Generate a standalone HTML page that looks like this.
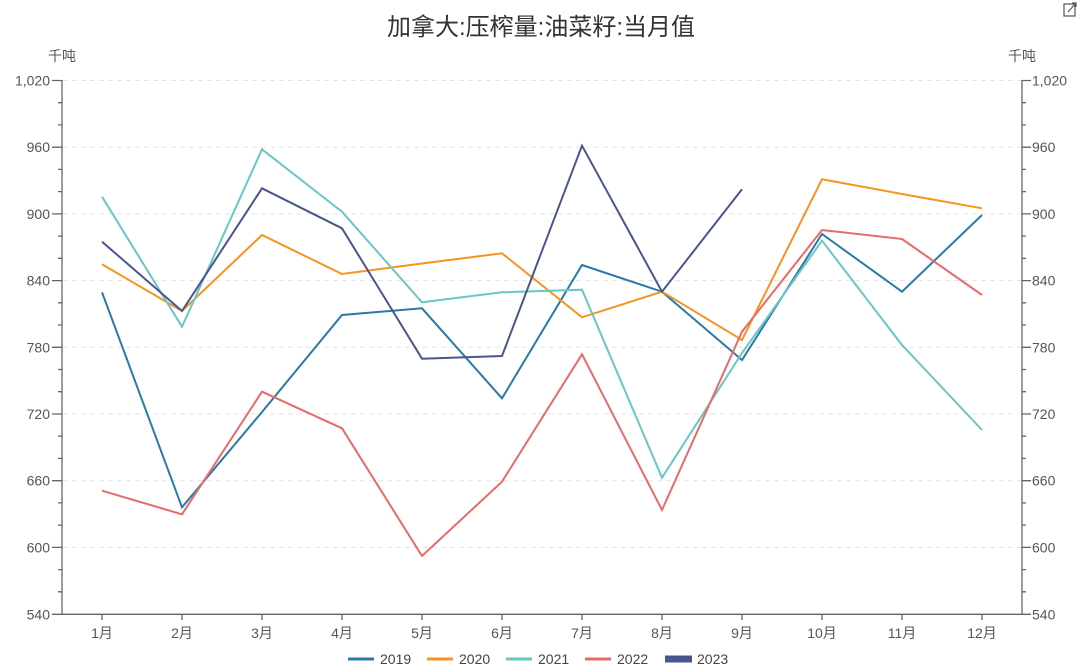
<!DOCTYPE html>
<html><head><meta charset="utf-8"><style>
html,body{margin:0;padding:0;background:#fff;}
svg{display:block;}
text{font-family:"Liberation Sans","Noto Sans CJK SC",sans-serif;}
</style></head><body>
<svg width="1080" height="671" viewBox="0 0 1080 671" xmlns="http://www.w3.org/2000/svg">
<rect width="1080" height="671" fill="#fff"/>
<text x="541" y="35" font-size="24" fill="#333" text-anchor="middle">加拿大:压榨量:油菜籽:当月值</text>
<g fill="none" stroke="#555" stroke-width="1.2">
<rect x="1064" y="4" width="11" height="12"/>
<path d="M1068 12 L1076 3 M1072 3 L1076 3 L1076 7"/>
</g>
<text x="62" y="61" font-size="14" fill="#555" text-anchor="middle">千吨</text>
<text x="1022" y="61" font-size="14" fill="#555" text-anchor="middle">千吨</text>
<g stroke="#e3e3e3" stroke-width="1" stroke-dasharray="5,4">
<line x1="63" y1="80.5" x2="1022" y2="80.5"/>
<line x1="63" y1="147.2" x2="1022" y2="147.2"/>
<line x1="63" y1="213.9" x2="1022" y2="213.9"/>
<line x1="63" y1="280.6" x2="1022" y2="280.6"/>
<line x1="63" y1="347.3" x2="1022" y2="347.3"/>
<line x1="63" y1="414" x2="1022" y2="414"/>
<line x1="63" y1="480.7" x2="1022" y2="480.7"/>
<line x1="63" y1="547.4" x2="1022" y2="547.4"/>
</g>
<g stroke="#666" stroke-width="1.3" fill="none">
<line x1="62" y1="80" x2="62" y2="614.5"/>
<line x1="1022" y1="80" x2="1022" y2="614.5"/>
<line x1="62" y1="614.3" x2="1022" y2="614.3"/>
<path d="M52 80.5H62M52 147.2H62M52 213.9H62M52 280.6H62M52 347.3H62M52 414H62M52 480.7H62M52 547.4H62M52 614.3H62"/>
<path d="M58 102.7H62M58 124.9H62M58 169.4H62M58 191.6H62M58 236.1H62M58 258.3H62M58 302.8H62M58 325H62M58 369.5H62M58 391.7H62M58 436.2H62M58 458.4H62M58 502.9H62M58 525.1H62M58 569.6H62M58 591.8H62"/>
<path d="M1022 80.5H1031M1022 147.2H1031M1022 213.9H1031M1022 280.6H1031M1022 347.3H1031M1022 414H1031M1022 480.7H1031M1022 547.4H1031M1022 614.3H1031"/>
<path d="M1022 102.7H1026M1022 124.9H1026M1022 169.4H1026M1022 191.6H1026M1022 236.1H1026M1022 258.3H1026M1022 302.8H1026M1022 325H1026M1022 369.5H1026M1022 391.7H1026M1022 436.2H1026M1022 458.4H1026M1022 502.9H1026M1022 525.1H1026M1022 569.6H1026M1022 591.8H1026"/>
<path d="M102 614V620M182 614V620M262 614V620M342 614V620M422 614V620M502 614V620M582 614V620M662 614V620M742 614V620M822 614V620M902 614V620M982 614V620"/>
</g>
<g font-size="14" fill="#555" text-anchor="end">
<text x="50" y="85.5">1,020</text>
<text x="50" y="152.2">960</text>
<text x="50" y="218.9">900</text>
<text x="50" y="285.6">840</text>
<text x="50" y="352.3">780</text>
<text x="50" y="419">720</text>
<text x="50" y="485.7">660</text>
<text x="50" y="552.4">600</text>
<text x="50" y="619.3">540</text>
</g>
<g font-size="14" fill="#555" text-anchor="start">
<text x="1032" y="85.5">1,020</text>
<text x="1032" y="152.2">960</text>
<text x="1032" y="218.9">900</text>
<text x="1032" y="285.6">840</text>
<text x="1032" y="352.3">780</text>
<text x="1032" y="419">720</text>
<text x="1032" y="485.7">660</text>
<text x="1032" y="552.4">600</text>
<text x="1032" y="619.3">540</text>
</g>
<g font-size="14" fill="#555" text-anchor="middle">
<text x="102" y="638">1月</text>
<text x="182" y="638">2月</text>
<text x="262" y="638">3月</text>
<text x="342" y="638">4月</text>
<text x="422" y="638">5月</text>
<text x="502" y="638">6月</text>
<text x="582" y="638">7月</text>
<text x="662" y="638">8月</text>
<text x="742" y="638">9月</text>
<text x="822" y="638">10月</text>
<text x="902" y="638">11月</text>
<text x="982" y="638">12月</text>
</g>
<g fill="none" stroke-width="2" stroke-linejoin="miter">
<polyline stroke="#2a7aa6" points="102,292.3 182,507.3 262,412 342,315 422,308.3 502,398.3 582,265 662,291.7 742,360 822,234 902,291.7 982,215"/>
<polyline stroke="#f7931e" points="102,264.3 182,311 262,235 342,274 422,263.5 502,253.3 582,317.3 662,291.7 742,340 822,179.3 902,194 982,208.3"/>
<polyline stroke="#6ac6c6" points="102,196.7 182,326.7 262,149.3 342,211.7 422,302.3 502,292.3 582,289.7 662,477.7 742,353 822,240.7 902,345 982,430"/>
<polyline stroke="#e86a6a" points="102,490.7 182,514.3 262,391.7 342,428.3 422,556 502,481.7 582,354.3 662,510 742,331.7 822,230 902,239 982,295"/>
<polyline stroke="#4a5590" points="102,241.7 182,311 262,188.3 342,228.3 422,358.7 502,356 582,145.7 662,291.7 742,189.3"/>
</g>
<g font-size="14" fill="#444">
<rect x="348" y="657.5" width="26" height="3" fill="#2a7aa6"/>
<text x="380" y="664">2019</text>
<rect x="427" y="657.5" width="26" height="3" fill="#f7931e"/>
<text x="459" y="664">2020</text>
<rect x="506" y="657.5" width="26" height="3" fill="#6ac6c6"/>
<text x="538" y="664">2021</text>
<rect x="585" y="657.5" width="26" height="3" fill="#e86a6a"/>
<text x="617" y="664">2022</text>
<rect x="665" y="655.5" width="27" height="7" fill="#4a5590"/>
<text x="697" y="664">2023</text>
</g>
</svg>
</body></html>
